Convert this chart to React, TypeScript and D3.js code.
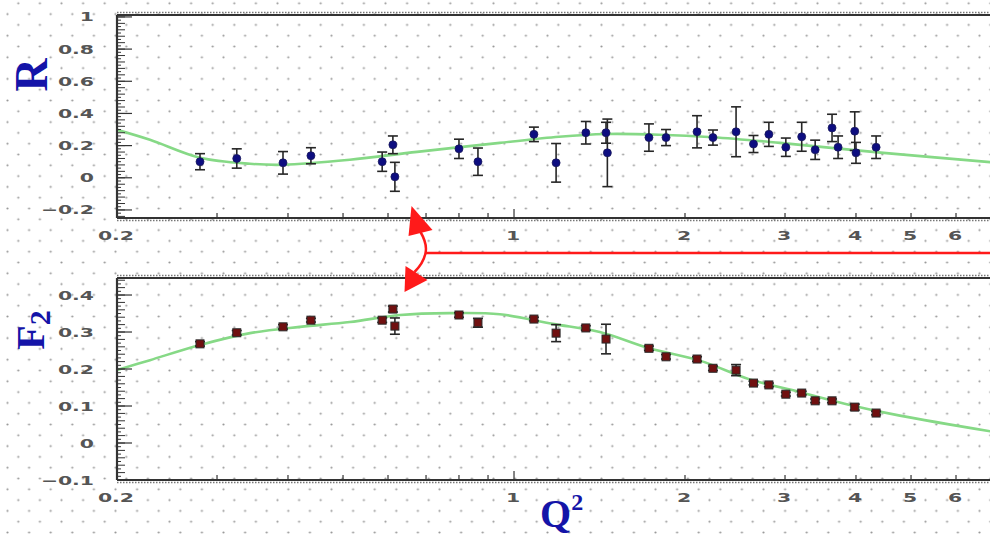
import React from "react";
import * as d3 from "d3";

// R = sigma_L / sigma_T  vs Q^2
const rQ2 = [0.28, 0.325, 0.392, 0.439, 0.586, 0.612, 0.617, 0.8, 0.864, 1.084, 1.186, 1.338, 1.452, 1.46, 1.728, 1.852, 2.1, 2.24, 2.46, 2.64, 2.81, 3.01, 3.21, 3.39, 3.63, 3.72, 3.98, 4.0, 4.34];
const rVal = [0.1, 0.12, 0.093, 0.137, 0.1, 0.205, 0.006, 0.18, 0.1, 0.27, 0.093, 0.28, 0.28, 0.155, 0.25, 0.25, 0.286, 0.25, 0.286, 0.21, 0.27, 0.19, 0.255, 0.174, 0.31, 0.19, 0.29, 0.155, 0.19];
const rErr = [0.05, 0.06, 0.07, 0.05, 0.06, 0.055, 0.09, 0.06, 0.085, 0.045, 0.12, 0.07, 0.065, 0.21, 0.085, 0.05, 0.1, 0.047, 0.155, 0.053, 0.075, 0.057, 0.09, 0.06, 0.085, 0.07, 0.12, 0.065, 0.07];

// F2 vs Q^2
const f2Q2 = [0.28, 0.325, 0.392, 0.439, 0.586, 0.612, 0.617, 0.8, 0.864, 1.084, 1.186, 1.338, 1.452, 1.728, 1.852, 2.1, 2.24, 2.46, 2.64, 2.81, 3.01, 3.21, 3.39, 3.63, 3.98, 4.34];
const f2Val = [0.268, 0.298, 0.314, 0.332, 0.332, 0.362, 0.316, 0.346, 0.325, 0.335, 0.297, 0.311, 0.281, 0.256, 0.233, 0.227, 0.202, 0.197, 0.162, 0.157, 0.132, 0.135, 0.114, 0.114, 0.097, 0.081];
const f2Err = [0.006, 0.006, 0.006, 0.005, 0.006, 0.008, 0.022, 0.006, 0.012, 0.005, 0.023, 0.006, 0.04, 0.006, 0.006, 0.006, 0.006, 0.015, 0.005, 0.005, 0.005, 0.005, 0.005, 0.005, 0.008, 0.005];

// fit curves
const rFitQ2 = [0.2, 0.2286, 0.28, 0.343, 0.392, 0.514, 0.675, 0.944, 1.2, 1.45, 1.8, 2.24, 2.94, 4.47, 7.0];
const rFitVal = [0.298, 0.236, 0.124, 0.087, 0.081, 0.112, 0.161, 0.217, 0.255, 0.272, 0.268, 0.252, 0.217, 0.155, 0.095];
const f2FitQ2 = [0.2, 0.2286, 0.28, 0.343, 0.42, 0.514, 0.63, 0.771, 0.944, 1.17, 1.416, 1.73, 2.13, 2.6, 3.18, 3.9, 4.78, 7.0];
const f2FitVal = [0.197, 0.224, 0.265, 0.297, 0.314, 0.327, 0.346, 0.351, 0.348, 0.322, 0.3, 0.256, 0.222, 0.172, 0.138, 0.103, 0.074, 0.03];

// axis ticks
const xLabelVals = [0.2, 1, 2, 3, 4, 5, 6];
const xLabels = ["0.2", "1", "2", "3", "4", "5", "6"];
const xMinorVals = [0.3, 0.4, 0.5, 0.6, 0.7, 0.8, 0.9, 2, 3, 4, 5, 6];
const rTickVals = [-0.2, 0, 0.2, 0.4, 0.6, 0.8, 1];
const rTickLabels = ["\u22120.2", "0", "0.2", "0.4", "0.6", "0.8", "1"];
const f2TickVals = [-0.1, 0, 0.1, 0.2, 0.3, 0.4];
const f2TickLabels = ["\u22120.1", "0", "0.1", "0.2", "0.3", "0.4"];

const W = 990;
const H = 535;
const LEFT = 117;
const blue = "#1414a8";
const labelFont = "DejaVu Sans";

const Label = ({ x, y, text, anchor }: { x: number; y: number; text: string; anchor: string }) => (
  <text
    transform={`translate(${x},${y}) scale(1.7,1)`}
    textAnchor={anchor}
    fontFamily={labelFont}
    fontWeight="bold"
    fontSize={12}
    fill="#555"
  >
    {text}
  </text>
);

export default function App() {
  const xs = d3.scaleLog().domain([0.2, 7]).range([LEFT, LEFT + 568 * Math.log10(35)]);
  const yR = d3.scaleLinear().domain([-0.25, 1.012]).range([218, 15]);
  const yF = d3.scaleLinear().domain([-0.1, 0.446]).range([480, 278]);

  const rLine = d3
    .line<number>()
    .x((d, i) => xs(rFitQ2[i]))
    .y((d) => yR(d))
    .curve(d3.curveCatmullRom.alpha(0.5));
  const fLine = d3
    .line<number>()
    .x((d, i) => xs(f2FitQ2[i]))
    .y((d) => yF(d))
    .curve(d3.curveCatmullRom.alpha(0.5));

  const panel = (
    y: d3.ScaleLinear<number, number>,
    tickVals: number[],
    tickLabels: string[],
    minorStep: number,
    subStep: number,
    labelY: number
  ) => {
    const [lo, hi] = y.domain();
    const top = y(hi);
    const bottom = y(lo);
    const minor = d3.range(Math.ceil(lo / subStep) * subStep, hi + 1e-9, subStep);
    return (
      <g>
        {/* frame lines */}
        <line x1={LEFT} x2={W} y1={top} y2={top} stroke="#333" strokeWidth={2} />
        <line x1={LEFT} x2={W} y1={top - 2.5} y2={top - 2.5} stroke="#777" strokeWidth={1.5} strokeDasharray="1.5 1.5" />
        <line x1={LEFT} x2={W} y1={bottom} y2={bottom} stroke="#333" strokeWidth={2} />
        <line x1={LEFT} x2={W} y1={bottom + 2.5} y2={bottom + 2.5} stroke="#777" strokeWidth={1.5} strokeDasharray="1.5 1.5" />
        <line x1={LEFT} x2={LEFT} y1={top} y2={bottom} stroke="#333" strokeWidth={2.2} />
        {/* y ticks */}
        {minor.map((v, i) => {
          const isMid = Math.abs(v / minorStep - Math.round(v / minorStep)) < 1e-6;
          return (
            <line key={"m" + i} x1={LEFT} x2={LEFT + (isMid ? 8 : 4)} y1={y(v)} y2={y(v)} stroke="#333" strokeWidth={1} />
          );
        })}
        {tickVals.map((v, i) => (
          <g key={"t" + i}>
            <line x1={LEFT} x2={LEFT + 15} y1={y(v)} y2={y(v)} stroke="#333" strokeWidth={1.2} />
            <Label x={94} y={y(v) + 4.5} text={tickLabels[i]} anchor="end" />
          </g>
        ))}
        {/* x ticks */}
        {xMinorVals.map((v, i) => (
          <line key={"x" + i} x1={xs(v)} x2={xs(v)} y1={bottom} y2={bottom - 5} stroke="#333" strokeWidth={1.2} />
        ))}
        <line x1={xs(1)} x2={xs(1)} y1={bottom} y2={bottom - 9} stroke="#333" strokeWidth={1.2} />
        {xLabelVals.map((v, i) => (
          <Label key={"xl" + i} x={xs(v) - 1} y={labelY} text={xLabels[i]} anchor="middle" />
        ))}
      </g>
    );
  };

  const ax = xs(0.66);

  return (
    <svg
      width={W}
      height={H}
      style={{ position: "absolute", left: 0, top: 0, background: "#fff" }}
    >
      <defs>
        <pattern id="dots" x={12.9} y={-2.1} width={21.6} height={21.6} patternUnits="userSpaceOnUse">
          <circle cx={5.4} cy={5.4} r={1.1} fill="#9a9a9a" />
          <circle cx={16.2} cy={16.2} r={1.1} fill="#9a9a9a" />
        </pattern>
        <clipPath id="clipR">
          <rect x={LEFT} y={yR(1.012)} width={W - LEFT} height={yR(-0.25) - yR(1.012)} />
        </clipPath>
        <clipPath id="clipF">
          <rect x={LEFT} y={yF(0.446)} width={W - LEFT} height={yF(-0.1) - yF(0.446)} />
        </clipPath>
      </defs>
      <rect x={0} y={0} width={W} height={H} fill="url(#dots)" />

      {/* top panel: R */}
      <g clipPath="url(#clipR)">
        <path d={rLine(rFitVal) || ""} fill="none" stroke="#86d986" strokeWidth={2.6} />
        {rQ2.map((q, i) => {
          const x = xs(q);
          const y1 = yR(rVal[i] - rErr[i]);
          const y2 = yR(rVal[i] + rErr[i]);
          return (
            <g key={i} stroke="#262626" strokeWidth={1.6}>
              <line x1={x} x2={x} y1={y1} y2={y2} />
              <line x1={x - 5} x2={x + 5} y1={y1} y2={y1} />
              <line x1={x - 5} x2={x + 5} y1={y2} y2={y2} />
            </g>
          );
        })}
        {rQ2.map((q, i) => (
          <circle key={i} cx={xs(q)} cy={yR(rVal[i])} r={4} fill="#0d0d80" stroke="#1a1a5a" strokeWidth={0.8} />
        ))}
      </g>
      {panel(yR, rTickVals, rTickLabels, 0.04, 0.02, 240)}

      {/* bottom panel: F2 */}
      <g clipPath="url(#clipF)">
        <path d={fLine(f2FitVal) || ""} fill="none" stroke="#86d986" strokeWidth={2.6} />
        {f2Q2.map((q, i) => {
          const x = xs(q);
          const y1 = yF(f2Val[i] - f2Err[i]);
          const y2 = yF(f2Val[i] + f2Err[i]);
          return (
            <g key={i} stroke="#262626" strokeWidth={1.6}>
              <line x1={x} x2={x} y1={y1} y2={y2} />
              <line x1={x - 5} x2={x + 5} y1={y1} y2={y1} />
              <line x1={x - 5} x2={x + 5} y1={y2} y2={y2} />
            </g>
          );
        })}
        {f2Q2.map((q, i) => (
          <rect key={i} x={xs(q) - 4} y={yF(f2Val[i]) - 4} width={8} height={8} fill="#701010" stroke="#2a2a2a" strokeWidth={1} />
        ))}
      </g>
      {panel(yF, f2TickVals, f2TickLabels, 0.02, 0.01, 502)}

      {/* red arrows */}
      <g fill="#ff1a1a" stroke="none">
        <polygon points={`${ax},${206} ${ax - 3},${236} ${ax + 21},${230}`} />
        <polygon points={`${ax - 6},${266} ${ax - 7},${292} ${ax + 16},${280}`} />
      </g>
      <path
        d={`M${ax + 9},232 Q${ax + 16},244 ${ax + 14},253 Q${ax + 12},263 ${ax + 3},272`}
        fill="none"
        stroke="#ff1a1a"
        strokeWidth={2.5}
      />
      <line x1={ax + 14} x2={W} y1={253} y2={253} stroke="#ff1a1a" strokeWidth={2.5} />

      {/* axis titles */}
      <text
        transform="translate(47,75) rotate(-90)"
        textAnchor="middle"
        fontFamily="Liberation Serif"
        fontWeight="bold"
        fontSize={46}
        fill={blue}
      >
        R
      </text>
      <text
        transform="translate(44,330) rotate(-90)"
        textAnchor="middle"
        fontFamily="Liberation Serif"
        fontWeight="bold"
        fontSize={40}
        fill={blue}
      >
        F<tspan fontSize={30} dy={6}>2</tspan>
      </text>
      <text x={540} y={527} fontFamily="Liberation Serif" fontWeight="bold" fontSize={40} fill={blue}>
        Q<tspan fontSize={24} dy={-17}>2</tspan>
      </text>
    </svg>
  );
}
